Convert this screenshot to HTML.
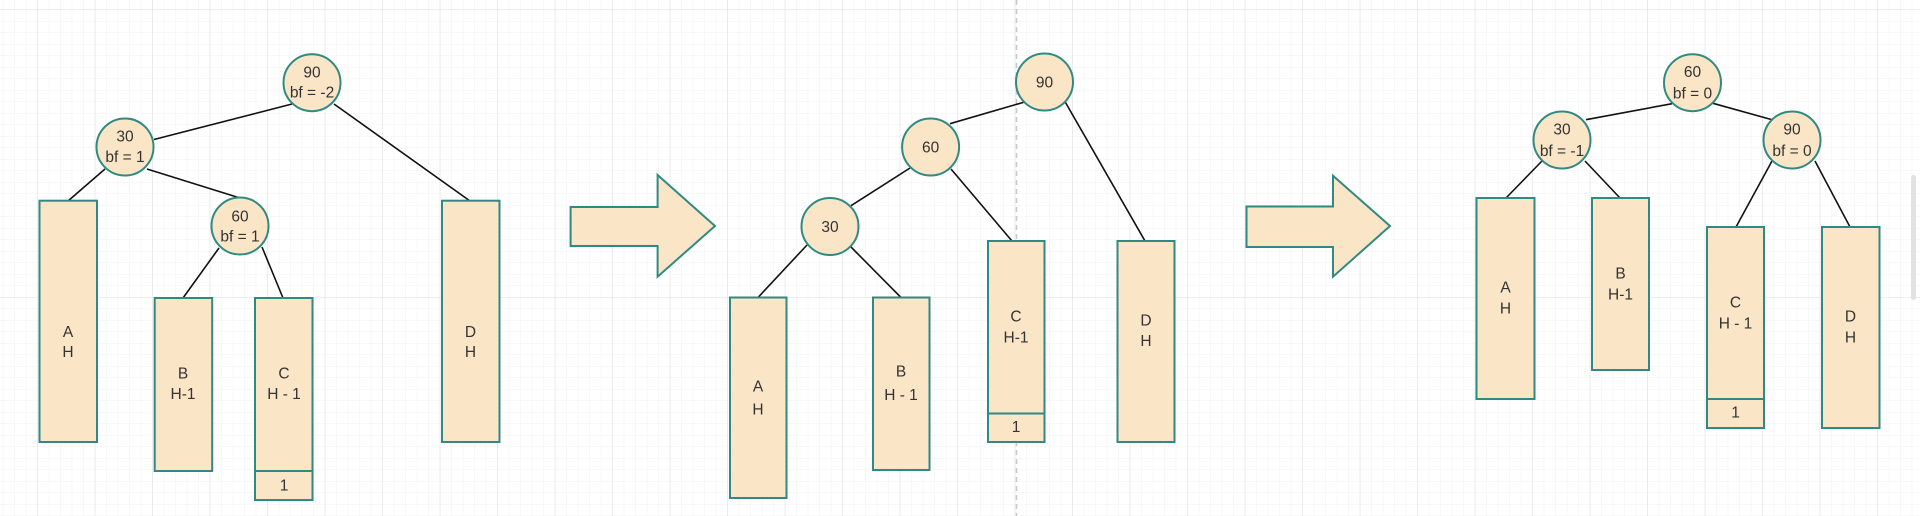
<!DOCTYPE html>
<html><head><meta charset="utf-8"><style>
html,body{margin:0;padding:0;background:#fff;}
svg{display:block;}
text{font-family:"Liberation Sans",Arial,sans-serif;font-size:15.5px;fill:#333;text-anchor:middle;dominant-baseline:central;}
.n{fill:#fae5c7;stroke:#2e8a83;stroke-width:2;}
.l{stroke:#111;stroke-width:1.6;fill:none;}
</style></head><body>
<svg width="1920" height="516" viewBox="0 0 1920 516" xmlns="http://www.w3.org/2000/svg">
<defs>
<pattern id="mn" x="37.3" y="9.5" width="11.5" height="11.5" patternUnits="userSpaceOnUse">
<path d="M0 0H11.5M0 0V11.5" stroke="#f1f1f1" stroke-width="1" fill="none"/>
</pattern>
<pattern id="mj" x="37.3" y="9.5" width="57.5" height="57.5" patternUnits="userSpaceOnUse">
<path d="M0 0H57.5M0 0V57.5" stroke="#dedede" stroke-width="1" fill="none"/>
</pattern>
</defs>
<rect width="1920" height="516" fill="#fff"/>
<rect width="1920" height="516" fill="url(#mn)"/>
<rect width="1920" height="516" fill="url(#mj)"/>
<line x1="1016.5" y1="0" x2="1016.5" y2="516" stroke="#c8c8c8" stroke-width="1.5" stroke-dasharray="5,4"/>
<rect x="1911" y="175" width="5" height="125" rx="2.5" fill="#e2e2e2"/>

<!-- Left tree -->
<line class="l" x1="292" y1="104" x2="154" y2="139.5"/>
<line class="l" x1="334" y1="104" x2="470" y2="201"/>
<line class="l" x1="105" y1="169" x2="68" y2="201"/>
<line class="l" x1="147" y1="169" x2="240" y2="198"/>
<line class="l" x1="219" y1="248" x2="183" y2="298"/>
<line class="l" x1="262" y1="247" x2="283" y2="298"/>
<rect class="n" x="39.5" y="200.7" width="57.5" height="241.3"/>
<text x="68" y="332.7">A</text><text x="68" y="352.7">H</text>
<rect class="n" x="154.7" y="298" width="57.5" height="173"/>
<text x="183" y="374">B</text><text x="183" y="394.7">H-1</text>
<rect class="n" x="255" y="298" width="57.5" height="173"/>
<text x="284" y="374">C</text><text x="284" y="394.7">H - 1</text>
<rect class="n" x="255" y="471" width="57.5" height="29"/>
<text x="284" y="486">1</text>
<rect class="n" x="442" y="200.7" width="57.5" height="241.3"/>
<text x="470.5" y="332.7">D</text><text x="470.5" y="352.7">H</text>
<circle class="n" cx="312" cy="82.7" r="28.5"/>
<text x="312" y="73">90</text><text x="312" y="93">bf = -2</text>
<circle class="n" cx="125" cy="147" r="28.5"/>
<text x="125" y="137">30</text><text x="125" y="157.5">bf = 1</text>
<circle class="n" cx="240" cy="226" r="28.5"/>
<text x="240" y="217">60</text><text x="240" y="237">bf = 1</text>

<!-- Arrow 1 -->
<polygon class="n" points="570.6,207 657.6,207 657.6,175 715,226 657.6,276.7 657.6,246 570.6,246"/>

<!-- Middle tree -->
<line class="l" x1="1026" y1="101.6" x2="950" y2="123.7"/>
<line class="l" x1="1065" y1="101.6" x2="1145" y2="241"/>
<line class="l" x1="910" y1="168" x2="851" y2="205.7"/>
<line class="l" x1="951" y1="169" x2="1012" y2="241"/>
<line class="l" x1="807" y1="245" x2="758" y2="297.5"/>
<line class="l" x1="851" y1="247" x2="901" y2="297.5"/>
<rect class="n" x="730" y="297.5" width="56.5" height="200.5"/>
<text x="758" y="387">A</text><text x="758" y="410">H</text>
<rect class="n" x="873" y="297.5" width="56.5" height="172.5"/>
<text x="901" y="372">B</text><text x="901" y="395.5">H - 1</text>
<rect class="n" x="988" y="241" width="56.5" height="172.5"/>
<text x="1016" y="317">C</text><text x="1016" y="338">H-1</text>
<rect class="n" x="988" y="413.5" width="56.5" height="28.5"/>
<text x="1016" y="427.5">1</text>
<rect class="n" x="1117.5" y="241" width="57" height="201"/>
<text x="1146" y="321">D</text><text x="1146" y="341.6">H</text>
<circle class="n" cx="1044.5" cy="82" r="28.5"/>
<text x="1044.5" y="83">90</text>
<circle class="n" cx="930.6" cy="147" r="28.5"/>
<text x="930.6" y="148">60</text>
<circle class="n" cx="830" cy="226.5" r="28.5"/>
<text x="830" y="227.5">30</text>

<!-- Arrow 2 -->
<polygon class="n" points="1246.5,206.5 1333,206.5 1333,175.7 1390,226 1333,276.7 1333,247 1246.5,247"/>

<!-- Right tree -->
<line class="l" x1="1672" y1="103.7" x2="1586" y2="119.7"/>
<line class="l" x1="1713" y1="103.3" x2="1773" y2="120"/>
<line class="l" x1="1542" y1="161" x2="1506" y2="198"/>
<line class="l" x1="1585" y1="161" x2="1620" y2="198"/>
<line class="l" x1="1772" y1="161" x2="1736" y2="227"/>
<line class="l" x1="1815" y1="161" x2="1850" y2="227"/>
<rect class="n" x="1476.5" y="198" width="58" height="201"/>
<text x="1505.5" y="288">A</text><text x="1505.5" y="309">H</text>
<rect class="n" x="1592" y="198" width="57" height="172"/>
<text x="1620.5" y="274">B</text><text x="1620.5" y="295">H-1</text>
<rect class="n" x="1707" y="227" width="57" height="172"/>
<text x="1735.5" y="303">C</text><text x="1735.5" y="324">H - 1</text>
<rect class="n" x="1707" y="399" width="57" height="29"/>
<text x="1735.5" y="413">1</text>
<rect class="n" x="1822" y="227" width="57.5" height="201"/>
<text x="1850.5" y="317">D</text><text x="1850.5" y="338">H</text>
<circle class="n" cx="1692.5" cy="82.7" r="28.5"/>
<text x="1692.5" y="72.7">60</text><text x="1692.5" y="94">bf = 0</text>
<circle class="n" cx="1562" cy="140" r="28.5"/>
<text x="1562" y="130">30</text><text x="1562" y="151.7">bf = -1</text>
<circle class="n" cx="1792" cy="140" r="28.5"/>
<text x="1792" y="130">90</text><text x="1792" y="151.7">bf = 0</text>
</svg>
</body></html>
